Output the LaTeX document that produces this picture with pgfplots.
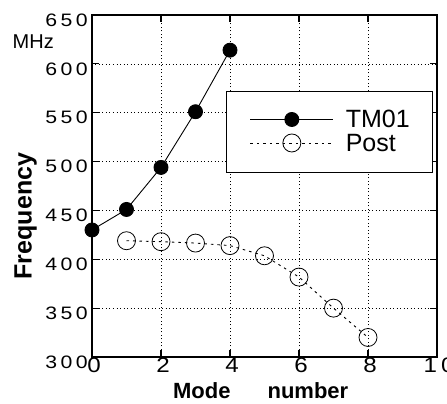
\documentclass[border=0pt]{standalone}
\usepackage{pgfplots}
\pgfplotsset{compat=1.18}
\usepackage{graphicx}
\usepackage{fontspec}
\setmainfont{Liberation Sans}
\newcommand\yt[3]{\scalebox{1.18}[1]{#1}\kern3.5pt\scalebox{1.18}[1]{#2}\kern3.5pt\scalebox{1.18}[1]{#3}}
\newcommand\xs[1]{\scalebox{1.15}[1]{#1}}
\begin{document}
\begin{tikzpicture}
\path[use as bounding box] (-92pt,-47pt) rectangle (355pt,357pt);
\begin{axis}[
  at={(0,0)}, anchor=south west,
  scale only axis, width=345pt, height=342pt,
  xmin=0, xmax=10, ymin=300, ymax=650,
  xtick={0,2,...,10}, ytick={300,350,...,650},
  xticklabels={\xs{0},\xs{2},\xs{4},\xs{6},\xs{8},\xs{1}\kern4pt\xs{0}},
  yticklabels={\yt300,\yt350,\yt400,\yt450,\yt500,\yt550,\yt600,\yt650},
  grid=major,
  major grid style={black, line width=0.5pt, dash pattern=on 1pt off 2.5pt},
  axis line style={black, line width=1.6pt},
  tick style={black, line width=1.2pt},
  major tick length=7pt,
  tick align=inside,
  xticklabel style={font=\fontsize{21}{21}\selectfont, inner sep=1pt, xshift=2pt},
  yticklabel style={font=\fontsize{18}{18}\selectfont, inner sep=4pt, yshift=-5pt},
  xlabel={\bfseries\fontsize{22}{22}\selectfont Mode\hspace{37pt}number},
  xlabel style={at={(axis description cs:0.489,-0.1228)}, anchor=base},
  ylabel={\bfseries\fontsize{25}{25}\selectfont Frequency},
  ylabel style={at={(axis description cs:-0.1748,0.412)}, anchor=base},
  legend style={at={(axis description cs:0.9884,0.7787)}, anchor=north east,
    draw=black, line width=0.6pt, fill=white,
    font=\fontsize{25}{25}\selectfont,
    inner xsep=18pt, inner ysep=20pt, row sep=6pt,
    nodes={inner sep=0pt, text height=17pt, text depth=0pt}},
  legend cell align=left,
  legend image code/.code={\path (-6pt,0pt); \draw[mark repeat=2,mark phase=2] plot coordinates {(0pt,0pt)(41.5pt,0pt)(83pt,0pt)};},
]
\addplot[black, line width=0.9pt, mark=*, mark size=7pt, mark options={solid, fill=black}]
  coordinates {(0,430) (1,451) (2,494) (3,551) (4,614)};
\addplot[black, line width=0.9pt, dash pattern=on 2.5pt off 4pt, mark=o, mark size=9pt, mark options={solid, line width=0.8pt, fill=white}]
  coordinates {(1,419) (2,418) (3,416.6) (4,414) (5,403.6) (6,381.8) (7,350) (8,320)};
\legend{\hspace*{12pt}TM01\hspace*{5pt}, \hspace*{12pt}Post\hspace*{5pt}}
\end{axis}
\node[anchor=base, font=\fontsize{20}{20}\selectfont] at (-58.7pt,308pt) {MHz};
\end{tikzpicture}
\end{document}
